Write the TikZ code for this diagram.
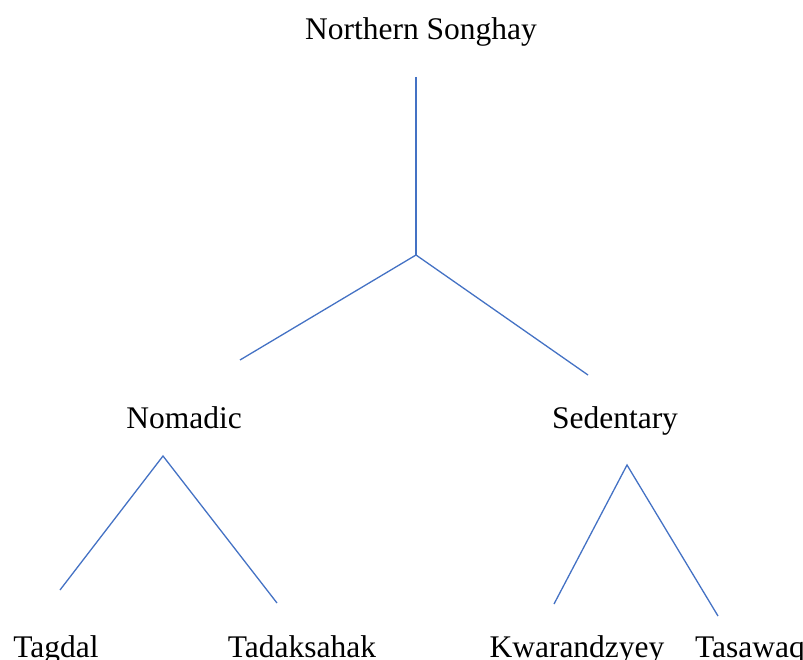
\documentclass[tikz,border=0pt]{standalone}
\usepackage{fontspec}
\setmainfont{Liberation Serif}
\definecolor{branchblue}{RGB}{68,114,196}
\tikzset{
  lang/.style={anchor=base,inner sep=0pt,font=\fontsize{31.5}{36}\selectfont},
  branch/.style={draw=branchblue,line width=1.3pt}
}
\begin{document}
\begin{tikzpicture}[x=1pt,y=-1pt]
\useasboundingbox (0,0) rectangle (803,660);
% labels
\node[lang] (root) at (421,40){Northern Songhay};
\node[lang] (nomadic) at (184,428){Nomadic};
\node[lang] (sedentary) at (615,428){Sedentary};
\node[lang] (tagdal) at (56,657){Tagdal};
\node[lang] (tadaksahak) at (302,657){Tadaksahak};
\node[lang] (kwarandzyey) at (577,657){Kwarandzyey};
\node[lang] (tasawaq) at (750,657){Tasawaq};
% line ends
\coordinate (rootTop) at (416,77);
\coordinate (rootJoin) at (416,255);
\coordinate (nomadicEnd) at (240,360);
\coordinate (sedentaryEnd) at (588,375);
\coordinate (nomadicTop) at (163,456);
\coordinate (tagdalEnd) at (60,590);
\coordinate (tadaksahakEnd) at (277,603);
\coordinate (sedentaryTop) at (627,465);
\coordinate (kwarandzyeyEnd) at (554,604);
\coordinate (tasawaqEnd) at (718,616);
% branches
\draw[branch] (rootTop) -- (rootJoin);
\draw[branch] (nomadicEnd) -- (rootJoin) -- (sedentaryEnd);
\draw[branch] (tagdalEnd) -- (nomadicTop) -- (tadaksahakEnd);
\draw[branch] (kwarandzyeyEnd) -- (sedentaryTop) -- (tasawaqEnd);
\end{tikzpicture}
\end{document}
